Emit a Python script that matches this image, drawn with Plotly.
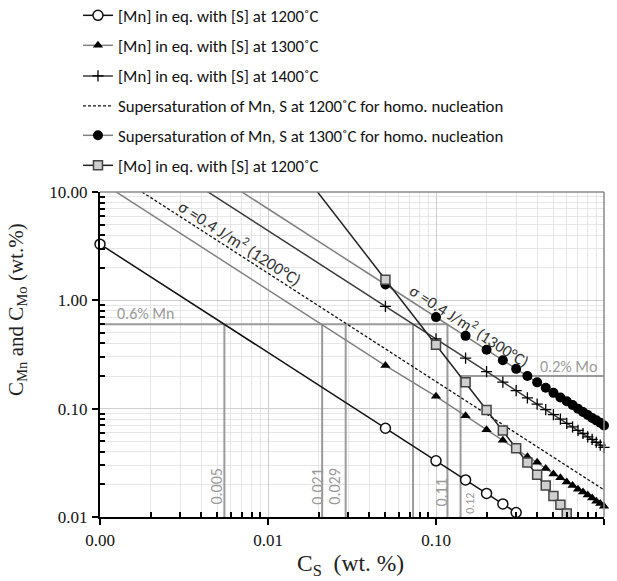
import numpy as np
import plotly.graph_objects as go

# ---------------- data ----------------
mn1200_x = [0.001, 0.05, 0.10, 0.15, 0.20, 0.25, 0.30]
mn1200_y = [3.3, 0.066, 0.033, 0.022, 0.0165, 0.0132, 0.011]

# first point of the following series is where the drawn line starts (above the plot)
cs_x = [0.001, 0.05, 0.10, 0.15, 0.20, 0.25, 0.30, 0.35, 0.40, 0.45, 0.50,
        0.55, 0.60, 0.65, 0.70, 0.75, 0.80, 0.85, 0.90, 0.95, 1.00]
mn1300_y = [12.5, 0.25, 0.13, 0.086, 0.064, 0.051, 0.042, 0.036, 0.032, 0.028, 0.025,
            0.023, 0.021, 0.0195, 0.018, 0.017, 0.016, 0.015, 0.014, 0.0133, 0.0126]
mn1400_y = [44, 0.88, 0.44, 0.293, 0.22, 0.176, 0.147, 0.126, 0.11, 0.098, 0.088,
            0.08, 0.073, 0.068, 0.063, 0.059, 0.055, 0.052, 0.049, 0.046, 0.044]
super1300_y = [70, 1.4, 0.70, 0.47, 0.35, 0.28, 0.233, 0.2, 0.175, 0.156, 0.14,
               0.127, 0.117, 0.108, 0.1, 0.093, 0.0875, 0.082, 0.078, 0.074, 0.07]

super1200_x = [0.001, 1.0]
super1200_y = [17.8, 0.0178]

mo1200_x = [0.01, 0.05, 0.10, 0.15, 0.20, 0.25, 0.30, 0.35, 0.40, 0.45, 0.50, 0.55, 0.60]
mo1200_y = [39, 1.55, 0.39, 0.175, 0.097, 0.063, 0.043, 0.0318, 0.0245, 0.0195, 0.0156, 0.013, 0.0108]

mn_limit = 0.6
mo_limit = 0.2
mn_cross_x = [0.0055, 0.021, 0.029, 0.073, 0.117]
mo_cross_x = 0.14
cross_labels = ["0.005", "0.021", "0.029", "0.11", "0.12"]

x_tickvals = [0.001, 0.01, 0.1, 1.0]
x_ticktext = ["0.00", "0.01", "0.10", "1.00"]
y_tickvals = [0.01, 0.1, 1.0, 10.0]
y_ticktext = ["0.01", "0.10", "1.00", "10.00"]

# ---------------- figure ----------------
SANS = "Carlito, Lato, 'Liberation Sans', sans-serif"
SERIF = "'Liberation Serif', 'DejaVu Serif', serif"
GRAY_REF = "#9a9a9a"
PAPER_H = 581 - 64

fig = go.Figure()

# reference lines (0.6 % Mn, 0.2 % Mo)
rx, ry = [min(x_tickvals), mn_cross_x[-1]], [mn_limit, mn_limit]
for xv in mn_cross_x:
    rx += [None, xv, xv]
    ry += [None, mn_limit, min(y_tickvals)]
rx += [None, mo_cross_x, max(x_tickvals), None, mo_cross_x, mo_cross_x]
ry += [None, mo_limit, mo_limit, None, mo_limit, min(y_tickvals)]
fig.add_trace(go.Scatter(x=rx, y=ry, mode="lines", line=dict(color=GRAY_REF, width=2),
                         showlegend=False, hoverinfo="skip"))

# line extensions (no markers)
fig.add_trace(go.Scatter(x=cs_x[:2], y=mn1300_y[:2], mode="lines",
                         line=dict(color="#808080", width=1.5), showlegend=False))
fig.add_trace(go.Scatter(x=cs_x[:2], y=mn1400_y[:2], mode="lines",
                         line=dict(color="#3a3a3a", width=1.5), showlegend=False))
fig.add_trace(go.Scatter(x=cs_x[:2], y=super1300_y[:2], mode="lines",
                         line=dict(color="#808080", width=1.5), showlegend=False))
fig.add_trace(go.Scatter(x=mo1200_x[:2], y=mo1200_y[:2], mode="lines",
                         line=dict(color="#222222", width=1.5), showlegend=False))

# main series (each in its own legend box so rows can be spaced like the reference)
fig.add_trace(go.Scatter(
    x=mn1200_x, y=mn1200_y, mode="lines+markers", name="[Mn] in eq. with [S] at 1200˚C",
    line=dict(color="#111111", width=1.5), cliponaxis=False, legend="legend",
    marker=dict(symbol="circle", size=10, color="white", line=dict(color="#111111", width=1.5))))
fig.add_trace(go.Scatter(
    x=cs_x[1:], y=mn1300_y[1:], mode="lines+markers", name="[Mn] in eq. with [S] at 1300˚C",
    line=dict(color="#808080", width=1.5), cliponaxis=False, legend="legend2",
    marker=dict(symbol="triangle-up", size=9, color="#000000")))
fig.add_trace(go.Scatter(
    x=cs_x[1:], y=mn1400_y[1:], mode="lines+markers", name="[Mn] in eq. with [S] at 1400˚C",
    line=dict(color="#3a3a3a", width=1.5), cliponaxis=False, legend="legend3",
    marker=dict(symbol="cross-thin", size=8, color="#000000", line=dict(color="#000000", width=1.3))))
fig.add_trace(go.Scatter(
    x=super1200_x, y=super1200_y, mode="lines",
    name="Supersaturation of Mn, S at 1200˚C for homo. nucleation", legend="legend4",
    line=dict(color="#111111", width=1.3, dash="3px,2px")))
fig.add_trace(go.Scatter(
    x=cs_x[1:], y=super1300_y[1:], mode="lines+markers",
    name="Supersaturation of Mn, S at 1300˚C for homo. nucleation", legend="legend5",
    line=dict(color="#808080", width=1.5), cliponaxis=False,
    marker=dict(symbol="circle", size=10, color="#000000")))
fig.add_trace(go.Scatter(
    x=mo1200_x[1:], y=mo1200_y[1:], mode="lines+markers", name="[Mo] in eq. with [S] at 1200˚C",
    line=dict(color="#222222", width=1.5), cliponaxis=False, legend="legend6",
    marker=dict(symbol="square", size=9, color="#cfcfcf", line=dict(color="#444444", width=1.5))))

# minor tick values
x_minor = [m * d for d in (0.001, 0.01, 0.1) for m in range(2, 10)]
y_minor = [m * d for d in (0.01, 0.1, 1.0) for m in range(2, 10)]

axis_common = dict(
    type="log", showline=True, linecolor="#000000", linewidth=2,
    ticks="outside", ticklen=6, tickwidth=1.5, tickcolor="#000000",
    showgrid=True, gridcolor="#cfcfcf", gridwidth=1, zeroline=False,
    tickfont=dict(family=SERIF, size=17, color="#111111"),
)
fig.update_xaxes(range=[-3, 0], tickvals=x_tickvals, ticktext=x_ticktext,
                 minor=dict(tickvals=x_minor, ticks="inside", ticklen=5, tickcolor="#000000",
                            showgrid=True, gridcolor="#e6e6e6", gridwidth=1),
                 ticklabelstandoff=1, **axis_common)
fig.update_yaxes(range=[-2, 1], tickvals=y_tickvals, ticktext=y_ticktext,
                 domain=[0, (PAPER_H - 192) / PAPER_H],
                 minor=dict(tickvals=y_minor, ticks="inside", ticklen=5, tickcolor="#000000",
                            showgrid=True, gridcolor="#e6e6e6", gridwidth=1),
                 ticklabelstandoff=1, **axis_common)

ann = []
def lbl(text, x, y, size=16, color=GRAY_REF, angle=0, family=SANS):
    ann.append(dict(text=text, x=x, y=y, xref="x", yref="y", showarrow=False,
                    xanchor="center", yanchor="middle",
                    textangle=angle, font=dict(family=family, size=size, color=color)))

lbl("0.6% Mn", -2.732, -0.124)
lbl("0.2% Mo", -0.214, -0.613)
for txt, lx, ly, sz in zip(cross_labels, [-2.304, -1.702, -1.601, -0.966, -0.798],
                           [-1.72, -1.72, -1.72, -1.777, -1.87], [16, 16, 16, 16, 12]):
    lbl(txt, lx, ly, size=sz, angle=-90)
lbl("σ =0.4 J/m<sup>2</sup> (1200°C)", -2.167, 0.53, size=17, color="#333333", angle=32.8)
lbl("σ =0.4 J/m<sup>2</sup> (1300°C)", -0.8, -0.23, size=16.5, color="#333333", angle=32.8)

ann.append(dict(text="C<sub>Mn</sub> and C<sub>Mo</sub> (wt.%)", x=(17 - 100) / 504, y=(517 - 310) / PAPER_H,
                xref="paper", yref="paper", showarrow=False, textangle=-90,
                xanchor="center", yanchor="middle",
                font=dict(family=SERIF, size=21, color="#222222")))
ann.append(dict(text="C<sub>S</sub>&nbsp;&nbsp;(wt. %)", x=(350 - 100) / 504, y=(517 - 565) / PAPER_H,
                xref="paper", yref="paper", showarrow=False,
                xanchor="center", yanchor="middle",
                font=dict(family=SERIF, size=23.5, color="#222222")))

# legend boxes: top edge (px) of each one-row legend
legend_tops = [-2.1, 27.9, 58.5, 88.5, 117.9, 147.9]
legend_layout = {}
for i, top in enumerate(legend_tops):
    key = "legend" if i == 0 else f"legend{i + 1}"
    legend_layout[key] = dict(x=-0.0437, y=1 - top / PAPER_H, xanchor="left", yanchor="top",
                              font=dict(family=SANS, size=16.8, color="#111111"),
                              bgcolor="rgba(0,0,0,0)")

top_frac = (PAPER_H - 192) / PAPER_H
fig.update_layout(
    width=617, height=581,
    margin=dict(l=100, r=13, t=0, b=64, autoexpand=False),
    paper_bgcolor="white", plot_bgcolor="white",
    annotations=ann,
    shapes=[
        dict(type="line", xref="paper", yref="paper", x0=0, x1=1, y0=top_frac, y1=top_frac,
             line=dict(color="#8a8a8a", width=1.5), layer="above"),
        dict(type="line", xref="paper", yref="paper", x0=1, x1=1, y0=0, y1=top_frac,
             line=dict(color="#8a8a8a", width=1.5), layer="above"),
    ],
    showlegend=True,
    **legend_layout,
)

fig.write_html("out.html", config={"displayModeBar": False},
               post_script="document.body.style.margin='0';")
